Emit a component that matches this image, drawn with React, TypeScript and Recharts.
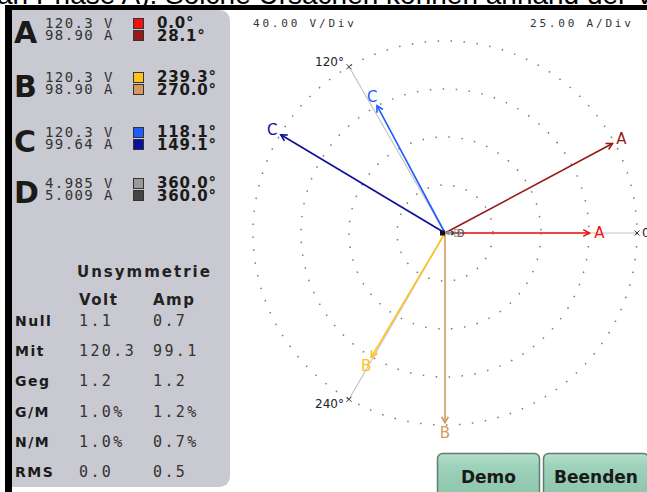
import { ScatterChart, Scatter, XAxis, YAxis, ReferenceDot } from "recharts";

// phasor readings
const phases = ["A", "B", "C", "D"];
const voltMag = [120.3, 120.3, 120.3, 4.985];
const ampMag = [98.9, 98.9, 99.64, 5.009];
const voltAng = [0.0, 239.3, 118.1, 360.0];
const ampAng = [28.1, 270.0, 149.1, 360.0];
const voltText = ["120.3 V", "120.3 V", "120.3 V", "4.985 V"];
const ampText = ["98.90 A", "98.90 A", "99.64 A", "5.009 A"];
const voltAngText = ["0.0°", "239.3°", "118.1°", "360.0°"];
const ampAngText = ["28.1°", "270.0°", "149.1°", "360.0°"];

const vPerDiv = 40;
const aPerDiv = 25;
const ringDivs = [1, 2, 3, 4];
const refAngles = [0, 120, 240];

// unbalance table
const unsymRows = ["Null", "Mit", "Geg", "G/M", "N/M", "RMS"];
const unsymVolt = ["1.1", "120.3", "1.2", "1.0%", "1.0%", "0.0"];
const unsymAmp = ["0.7", "99.1", "1.2", "1.2%", "0.7%", "0.5"];

const voltColors = ["#ee1111", "#ffc21a", "#1f5cff", "#9a9a9a"];
const ampColors = ["#991818", "#d39a62", "#0d0f9c", "#444444"];

const PX_PER_DIV = 48;
const HALF = 4.375;
const SIZE = 420;
const CX = 445;
const CY = 233;

const mono = "'DejaVu Sans Mono', monospace";
const sans = "'DejaVu Sans', sans-serif";

function toXY(mag: number, perDiv: number, ang: number) {
  const r = mag / perDiv;
  const a = (ang * Math.PI) / 180;
  return { x: r * Math.cos(a), y: r * Math.sin(a) };
}

const vectors: any[] = [];
phases.forEach((p, i) => {
  vectors.push({ key: "a" + p, color: ampColors[i], data: [{ x: 0, y: 0 }, { ...toXY(ampMag[i], aPerDiv, ampAng[i]), tip: true, ang: ampAng[i], label: p, color: ampColors[i] }] });
  vectors.push({ key: "v" + p, color: voltColors[i], data: [{ x: 0, y: 0 }, { ...toXY(voltMag[i], vPerDiv, voltAng[i]), tip: true, ang: voltAng[i], label: p, color: voltColors[i] }] });
});

const refLines = refAngles.map((a) => ({
  key: "r" + a,
  data: [{ x: 0, y: 0 }, { ...toXY(ringDivs[ringDivs.length - 1], 1, a), tip: true, ang: a }],
}));

const ArrowTip = (props: any) => {
  const { cx, cy, payload } = props;
  if (!payload || !payload.tip || cx == null) return <g />;
  const a = (payload.ang * Math.PI) / 180;
  const dx = Math.cos(a);
  const dy = -Math.sin(a);
  const small = payload.label === "D";
  const hl = small ? 4 : 7;
  const s = Math.sin(0.5);
  const c = Math.cos(0.5);
  const bx = -dx;
  const by = -dy;
  const p1 = [cx + hl * (bx * c - by * s), cy + hl * (bx * s + by * c)];
  const p2 = [cx + hl * (bx * c + by * s), cy + hl * (-bx * s + by * c)];
  const off = small ? 6 : 10;
  return (
    <g>
      <polyline points={`${p1[0]},${p1[1]} ${cx},${cy} ${p2[0]},${p2[1]}`} fill="none" stroke={payload.color} strokeWidth={1.6} />
      <text
        x={cx + off * dx}
        y={cy + off * dy}
        textAnchor="middle"
        dominantBaseline="central"
        fill={payload.color}
        fontFamily={sans}
        fontSize={small ? 10 : 15}
      >
        {payload.label}
      </text>
    </g>
  );
};

const RefTip = (props: any) => {
  const { cx, cy, payload } = props;
  if (!payload || !payload.tip || cx == null) return <g />;
  const a = (payload.ang * Math.PI) / 180;
  const left = Math.cos(a) < 0;
  return (
    <g>
      <path d={`M${cx - 2.5},${cy - 2.5}L${cx + 2.5},${cy + 2.5}M${cx - 2.5},${cy + 2.5}L${cx + 2.5},${cy - 2.5}`} stroke="#333" strokeWidth={1} />
      <text
        x={left ? cx - 5 : cx + 5}
        y={cy + 4 - 6 * Math.sin(a)}
        textAnchor={left ? "end" : "start"}
        fill="#222"
        fontFamily={sans}
        fontSize={12}
      >
        {payload.ang}°
      </text>
    </g>
  );
};

const CenterMark = (props: any) => {
  const { cx, cy } = props;
  return <rect x={cx - 5} y={cy - 2.5} width={5} height={5} fill="#111" />;
};

function Phasor() {
  return (
    <ScatterChart width={SIZE} height={SIZE} margin={{ top: 0, right: 0, bottom: 0, left: 0 }}>
      <XAxis type="number" dataKey="x" domain={[-HALF, HALF]} allowDataOverflow hide />
      <YAxis type="number" dataKey="y" domain={[-HALF, HALF]} allowDataOverflow hide />
      {ringDivs.map((d) => (
        <ReferenceDot
          key={d}
          x={0}
          y={0}
          r={d * PX_PER_DIV}
          fill="none"
          stroke="#7a7a7a"
          strokeWidth={1.5}
          strokeDasharray="1.5 11.5"
          ifOverflow="visible"
        />
      ))}
      {refLines.map((r) => (
        <Scatter key={r.key} data={r.data} line={{ stroke: "#c4c4c4", strokeWidth: 1.2 }} shape={RefTip} isAnimationActive={false} />
      ))}
      {vectors.map((v) => (
        <Scatter key={v.key} data={v.data} line={{ stroke: v.color, strokeWidth: 1.6 }} shape={ArrowTip} isAnimationActive={false} />
      ))}
      <ReferenceDot x={0} y={0} r={3} shape={CenterMark} ifOverflow="visible" />
    </ScatterChart>
  );
}

function Panel() {
  const groupBase = [28, 82, 137, 188];
  const rowBase = unsymRows.map((_, i) => 326 + i * 30.2);
  return (
    <svg width={647} height={492} style={{ position: "absolute", left: 0, top: 0 }}>
      <rect x={0} y={0} width={647} height={492} fill="#ffffff" />
      <text x={-3} y={4} fontFamily="'Liberation Sans', Arial, sans-serif" fontSize={28} fill="#000">
        an Phase A). Solche Ursachen können anhand der Ve
      </text>
      <rect x={5} y={5} width={642} height={5} fill="#000" />
      <rect x={5} y={5} width={7} height={487} fill="#000" />
      <path d="M12,10 H218 Q230,10 230,22 V475 Q230,487 218,487 H12 Z" fill="#c9c9d1" />
      {phases.map((p, i) => {
        const b = groupBase[i];
        return (
          <g key={p}>
            <text x={14} y={b + 15} fontFamily={sans} fontWeight="bold" fontSize={30} fill="#1a1a1a">{p}</text>
            <text x={45} y={b} fontFamily={mono} fontSize={14} letterSpacing={1.4} fill="#333">{voltText[i]}</text>
            <text x={45} y={b + 11.5} fontFamily={mono} fontSize={14} letterSpacing={1.4} fill="#333">{ampText[i]}</text>
            <rect x={133.5} y={b - 9.5} width={10} height={10} fill={voltColors[i]} stroke="#333" strokeWidth={1} />
            <rect x={133.5} y={b + 2.5} width={10} height={10} fill={ampColors[i]} stroke="#333" strokeWidth={1} />
            <text x={157} y={b} fontFamily={sans} fontWeight="bold" fontSize={15} letterSpacing={0.8} fill="#1a1a1a">{voltAngText[i]}</text>
            <text x={157} y={b + 13} fontFamily={sans} fontWeight="bold" fontSize={15} letterSpacing={0.8} fill="#1a1a1a">{ampAngText[i]}</text>
          </g>
        );
      })}
      <text x={77} y={277} fontFamily={sans} fontWeight="bold" fontSize={15} letterSpacing={2} fill="#222">Unsymmetrie</text>
      <text x={79} y={305} fontFamily={sans} fontWeight="bold" fontSize={15} letterSpacing={1.5} fill="#222">Volt</text>
      <text x={153} y={305} fontFamily={sans} fontWeight="bold" fontSize={15} letterSpacing={1.5} fill="#222">Amp</text>
      {unsymRows.map((r, i) => (
        <g key={r}>
          <text x={15} y={rowBase[i]} fontFamily={sans} fontWeight="bold" fontSize={14} letterSpacing={1.5} fill="#1a1a1a">{r}</text>
          <text x={79} y={rowBase[i]} fontFamily={mono} fontSize={15} letterSpacing={2.4} fill="#333">{unsymVolt[i]}</text>
          <text x={153} y={rowBase[i]} fontFamily={mono} fontSize={15} letterSpacing={2.4} fill="#333">{unsymAmp[i]}</text>
        </g>
      ))}
      <text x={253} y={27} fontFamily={mono} fontSize={11} letterSpacing={2.8} fill="#333">40.00 V/Div</text>
      <text x={530} y={27} fontFamily={mono} fontSize={11} letterSpacing={2.8} fill="#333">25.00 A/Div</text>
    </svg>
  );
}

function Buttons() {
  const btns = [
    { label: "Demo", x: 437, w: 103 },
    { label: "Beenden", x: 543, w: 106 },
  ];
  return (
    <svg width={647} height={492} style={{ position: "absolute", left: 0, top: 0, pointerEvents: "none" }}>
      <defs>
        <linearGradient id="btnG" x1="0" y1="0" x2="0" y2="1">
          <stop offset="0" stopColor="#b4e0cc" />
          <stop offset="0.3" stopColor="#9dd1b9" />
          <stop offset="1" stopColor="#8cc4ab" />
        </linearGradient>
      </defs>
      {btns.map((b) => (
        <g key={b.label}>
          <rect x={b.x + 0.5} y={453.5} width={b.w - 1} height={45} rx={5} fill="url(#btnG)" stroke="#5f7d72" strokeWidth={1.5} />
          <text x={b.x + b.w / 2} y={483} textAnchor="middle" fontFamily={sans} fontWeight="bold" fontSize={17} fill="#1a1a1a">
            {b.label}
          </text>
        </g>
      ))}
    </svg>
  );
}

export default function App() {
  return (
    <div style={{ position: "absolute", left: 0, top: 0, width: 647, height: 492, overflow: "hidden", background: "#fff" }}>
      <Panel />
      <div style={{ position: "absolute", left: CX - SIZE / 2, top: CY - SIZE / 2 }}>
        <Phasor />
      </div>
      <Buttons />
    </div>
  );
}
